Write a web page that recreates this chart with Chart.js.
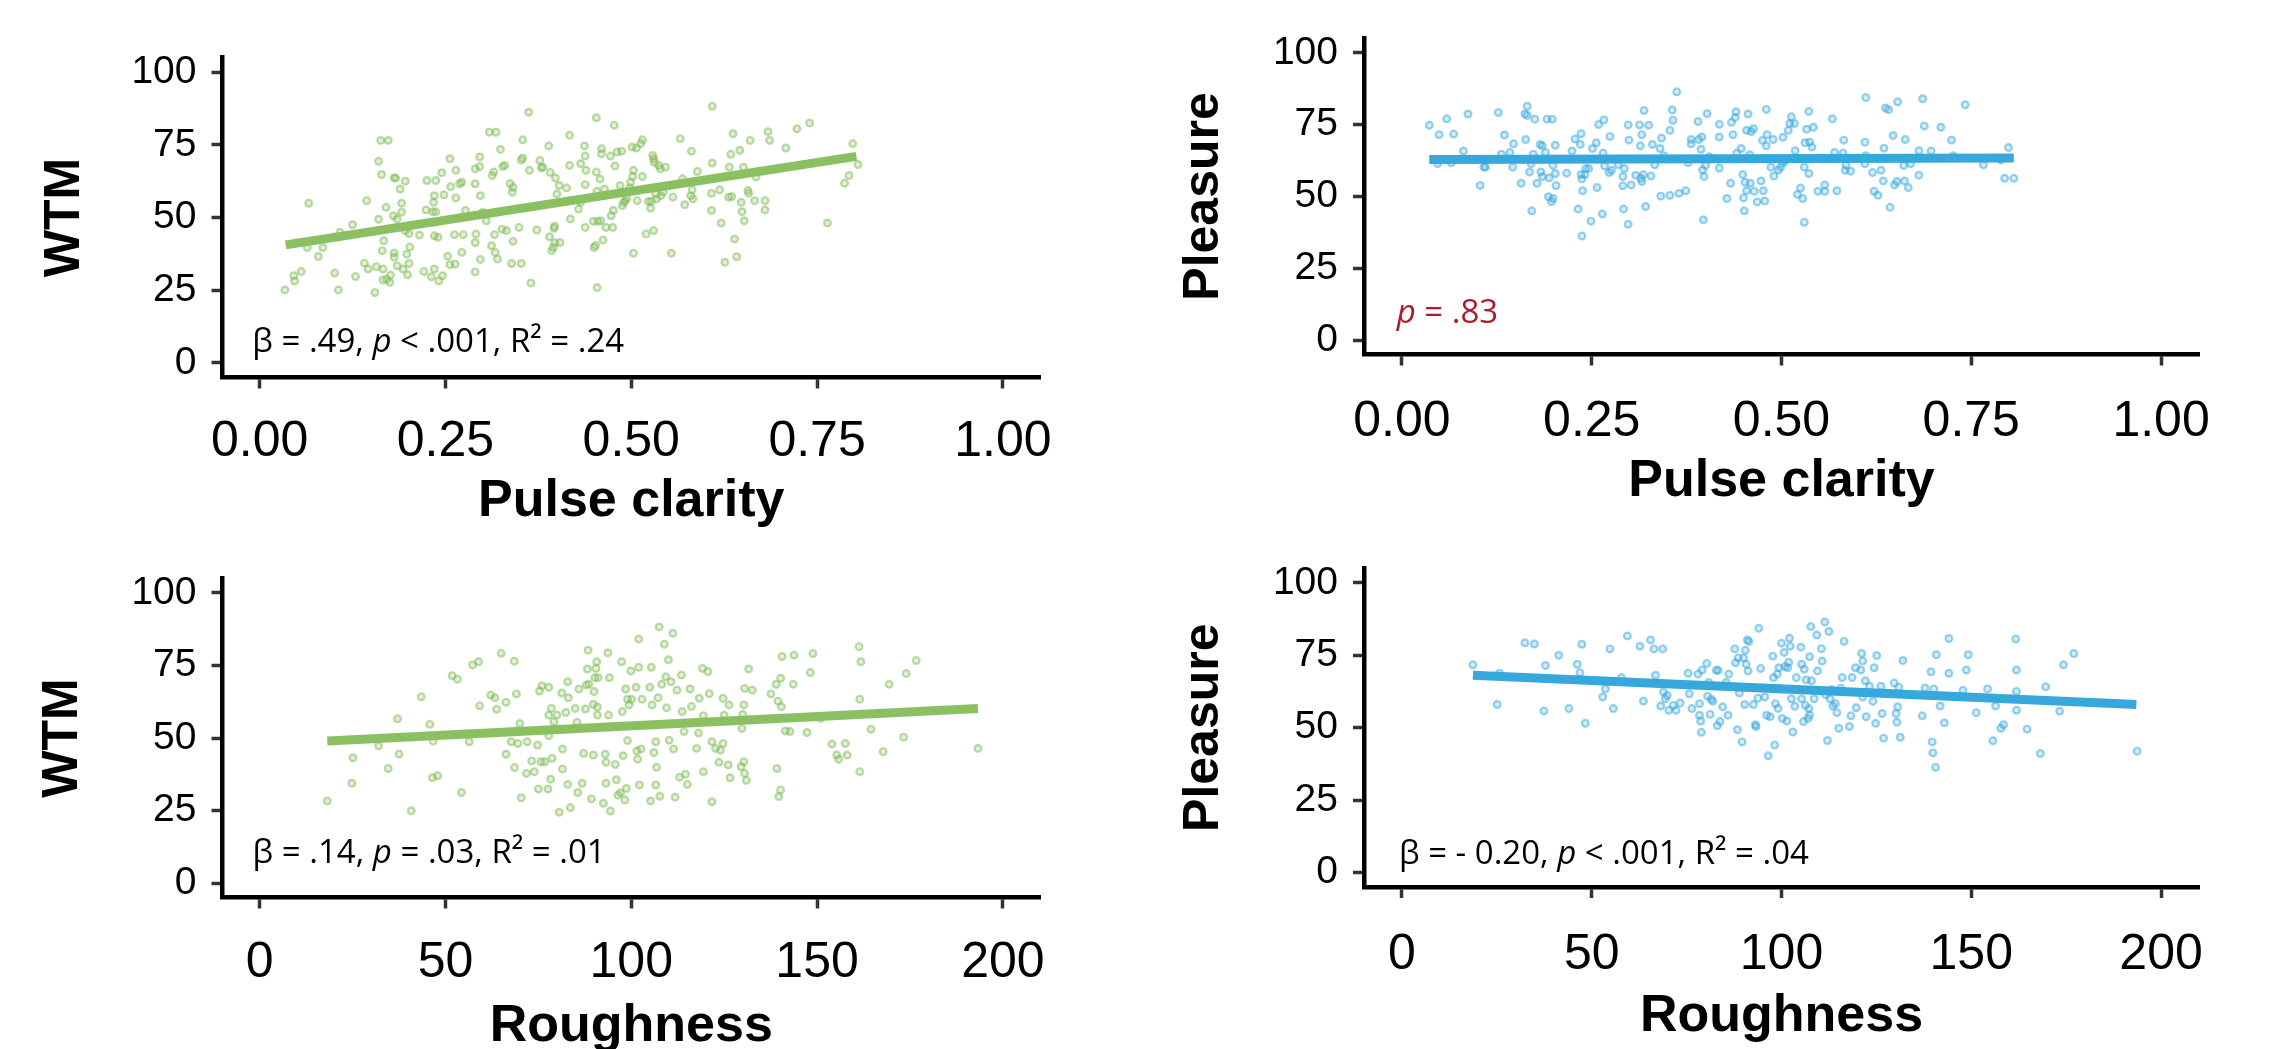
<!DOCTYPE html>
<html>
<head>
<meta charset="utf-8">
<script src="https://cdn.jsdelivr.net/npm/chart.js@4.4.1/dist/chart.umd.min.js"></script>
<style>
  html, body { margin: 0; padding: 0; background: #fff; overflow: hidden; }
  canvas { position: absolute; }
</style>
</head>
<body>
<canvas id="wtm-pulse"></canvas>
<canvas id="pleasure-pulse"></canvas>
<canvas id="wtm-rough"></canvas>
<canvas id="pleasure-rough"></canvas>
<script>
"use strict";

// tick labels
const pulseTicks = [0, 0.25, 0.5, 0.75, 1];
const roughTicks = [0, 50, 100, 150, 200];
const ratingTicks = [0, 25, 50, 75, 100];

// WTM vs pulse clarity
const wtmPulseX = [0.034,0.046,0.047,0.056,0.066,0.064,0.079,0.085,0.101,0.106,0.108,0.125,0.129,0.141,0.144,0.146,0.155,0.157,0.160,0.160,0.163,0.173,0.164,0.165,0.166,0.167,0.166,0.171,0.176,0.175,0.170,0.181,0.183,0.180,0.181,0.181,0.185,0.185,0.189,0.191,0.191,0.196,0.196,0.198,0.199,0.201,0.202,0.201,0.193,0.215,0.221,0.224,0.225,0.231,0.233,0.235,0.235,0.237,0.240,0.241,0.246,0.237,0.235,0.234,0.245,0.248,0.253,0.256,0.256,0.257,0.263,0.264,0.264,0.262,0.269,0.272,0.272,0.274,0.277,0.290,0.290,0.291,0.290,0.290,0.296,0.296,0.297,0.297,0.300,0.305,0.309,0.318,0.312,0.313,0.315,0.316,0.317,0.320,0.324,0.326,0.327,0.330,0.332,0.337,0.339,0.341,0.340,0.341,0.349,0.352,0.352,0.354,0.354,0.362,0.363,0.365,0.373,0.377,0.379,0.381,0.389,0.390,0.391,0.393,0.395,0.396,0.397,0.397,0.398,0.400,0.403,0.404,0.413,0.417,0.417,0.418,0.429,0.432,0.432,0.437,0.438,0.438,0.438,0.439,0.449,0.450,0.452,0.453,0.453,0.454,0.454,0.455,0.458,0.459,0.462,0.460,0.460,0.464,0.466,0.472,0.473,0.475,0.476,0.477,0.478,0.481,0.485,0.487,0.488,0.490,0.492,0.494,0.498,0.499,0.501,0.502,0.503,0.503,0.507,0.508,0.513,0.515,0.515,0.520,0.523,0.526,0.527,0.529,0.530,0.530,0.531,0.533,0.534,0.537,0.539,0.540,0.543,0.546,0.554,0.556,0.566,0.569,0.572,0.580,0.581,0.582,0.583,0.589,0.608,0.608,0.609,0.609,0.619,0.621,0.626,0.631,0.632,0.634,0.635,0.637,0.639,0.642,0.646,0.648,0.649,0.651,0.652,0.657,0.658,0.660,0.666,0.668,0.680,0.680,0.684,0.686,0.708,0.723,0.740,0.764,0.787,0.793,0.798,0.805];
const wtmPulseY = [25.1,30.0,28.2,31.4,54.9,39.7,36.6,39.7,30.9,25.1,44.9,47.5,29.7,34.3,55.8,32.3,24.2,33.1,49.4,69.3,76.5,76.5,64.8,38.6,32.3,42.0,28.5,28.8,30.2,27.7,53.5,63.6,63.6,50.6,37.8,36.3,33.4,49.5,59.8,51.8,54.9,62.5,45.5,37.4,30.3,34.2,39.9,44.5,32.3,44.0,31.4,52.6,62.7,29.6,52.0,43.7,32.3,52.0,43.2,28.2,30.0,62.7,57.5,55.2,65.4,57.8,36.7,70.2,33.8,60.6,34.0,66.2,56.7,44.1,61.6,62.1,38.0,44.1,52.4,61.6,66.7,44.3,41.4,31.3,70.8,67.5,57.5,35.6,51.8,48.9,79.3,79.3,40.3,64.4,65.6,44.1,38.0,35.7,73.4,46.0,67.5,67.9,45.5,61.6,34.2,60.4,58.7,41.8,46.6,34.2,69.8,70.4,76.7,86.2,66.2,27.5,45.7,69.6,67.1,67.3,74.6,43.4,65.5,38.6,39.7,46.3,47.0,41.3,63.6,58.1,61.0,41.4,60.2,78.3,67.9,49.5,52.9,68.5,55.2,74.6,71.1,61.3,46.6,66.2,48.7,39.7,40.4,84.3,65.6,25.9,59.0,48.7,63.2,48.9,42.3,73.6,71.9,59.8,46.6,71.1,50.6,46.6,52.4,81.7,67.7,72.5,61.0,72.8,54.1,55.2,55.8,56.7,60.2,62.1,74.2,64.1,66.2,37.7,73.9,55.8,75.4,76.7,64.1,44.3,55.5,53.2,55.6,71.3,70.2,45.5,69.0,58.1,56.4,67.9,66.7,57.5,58.7,67.3,37.7,57.0,77.1,63.3,54.4,57.5,72.8,59.5,56.4,65.8,52.4,58.3,68.7,88.2,59.5,48.1,34.6,57.0,67.3,71.7,57.2,78.8,42.6,36.5,73.1,55.2,52.0,67.3,48.9,59.3,58.3,76.5,55.8,63.9,55.8,52.6,79.5,76.5,73.9,80.5,82.5,48.1,61.8,64.4,75.4,68.2];
const wtmPulseFitX = [0.035, 0.803];
const wtmPulseFitY = [40.6, 71.0];

// Pleasure vs pulse clarity
const pleasurePulseX = [0.036,0.049,0.047,0.059,0.068,0.065,0.081,0.087,0.103,0.108,0.110,0.127,0.131,0.135,0.142,0.147,0.146,0.157,0.163,0.162,0.165,0.165,0.175,0.168,0.171,0.170,0.173,0.178,0.182,0.185,0.183,0.185,0.189,0.193,0.197,0.199,0.194,0.199,0.202,0.203,0.202,0.191,0.198,0.217,0.224,0.228,0.232,0.236,0.235,0.236,0.237,0.238,0.237,0.241,0.242,0.246,0.249,0.251,0.256,0.257,0.259,0.266,0.265,0.264,0.267,0.274,0.273,0.276,0.285,0.292,0.291,0.293,0.291,0.298,0.299,0.298,0.302,0.308,0.313,0.314,0.316,0.315,0.316,0.318,0.321,0.319,0.325,0.328,0.330,0.333,0.340,0.342,0.341,0.345,0.353,0.356,0.357,0.353,0.362,0.365,0.374,0.377,0.381,0.381,0.390,0.391,0.395,0.394,0.396,0.398,0.397,0.402,0.405,0.400,0.418,0.418,0.418,0.428,0.433,0.434,0.436,0.440,0.439,0.441,0.447,0.449,0.450,0.452,0.451,0.454,0.456,0.454,0.459,0.458,0.460,0.463,0.464,0.468,0.473,0.475,0.476,0.478,0.480,0.481,0.480,0.486,0.489,0.490,0.496,0.499,0.502,0.502,0.505,0.509,0.511,0.513,0.518,0.517,0.521,0.525,0.528,0.530,0.530,0.531,0.533,0.536,0.536,0.537,0.542,0.540,0.548,0.557,0.557,0.567,0.573,0.570,0.582,0.581,0.584,0.585,0.591,0.610,0.611,0.610,0.611,0.620,0.622,0.627,0.631,0.634,0.635,0.637,0.641,0.643,0.647,0.649,0.652,0.653,0.662,0.661,0.663,0.667,0.670,0.681,0.681,0.686,0.688,0.697,0.710,0.724,0.726,0.742,0.766,0.789,0.794,0.799,0.806];
const pleasurePulseY = [74.8,71.5,61.4,77.0,71.7,61.7,65.8,78.7,53.8,60.2,60.2,79.2,64.7,71.4,65.3,68.3,60.2,54.6,69.8,78.7,81.4,78.2,76.9,58.5,45.0,61.4,64.7,54.6,68.1,67.6,58.5,56.9,65.3,49.9,48.2,49.3,56.5,60.8,58.0,53.8,67.8,76.9,76.9,58.1,65.8,70.0,45.6,71.8,68.1,57.6,56.1,52.0,36.2,57.6,59.7,59.7,41.4,66.7,68.7,53.1,75.0,76.6,65.1,43.9,60.6,70.9,58.3,59.1,61.0,45.6,56.9,59.7,53.7,74.9,69.6,40.3,54.0,57.4,74.9,67.6,71.5,56.3,55.2,57.6,46.5,79.9,74.8,57.1,68.1,61.0,66.7,70.3,50.1,64.2,50.4,80.1,76.5,73.0,86.4,51.1,52.0,61.7,69.8,68.3,76.1,69.8,70.7,66.4,59.2,56.9,41.9,78.8,63.8,60.8,75.1,70.7,59.9,49.3,54.6,75.8,71.5,79.5,77.5,65.1,66.7,57.6,49.5,54.9,45.0,52.0,78.7,73.0,54.6,64.5,72.6,73.6,51.8,48.1,55.4,69.5,52.0,48.4,80.3,71.5,67.6,60.2,69.8,57.1,59.2,60.2,61.7,70.6,62.5,73.0,75.4,77.7,65.9,75.4,50.7,52.9,49.3,41.0,60.2,68.7,73.4,79.6,58.0,68.9,74.1,67.2,51.8,51.8,54.0,77.0,52.0,65.3,69.6,65.1,59.1,60.8,58.8,68.9,84.4,61.4,64.2,58.3,51.8,50.4,59.1,55.4,66.8,80.8,80.2,46.2,71.2,54.0,55.2,82.9,55.4,60.8,69.8,53.1,61.4,57.4,65.9,84.0,74.5,65.8,74.1,69.6,64.2,81.9,61.0,62.7,56.3,67.0,56.3];
const pleasurePulseFitX = [0.036, 0.806];
const pleasurePulseFitY = [62.9, 63.4];

// WTM vs roughness
const wtmRoughX = [18.2,24.8,25.1,32.0,34.6,37.1,37.5,40.8,43.5,45.8,46.5,46.7,47.9,51.8,53.2,54.3,56.4,57.3,58.9,59.2,62.2,63.3,63.8,65.0,66.3,66.3,67.7,68.5,68.6,69.1,69.5,70.0,70.4,71.8,72.0,73.2,73.9,74.8,75.0,75.3,75.7,76.0,76.7,77.6,77.8,77.8,77.8,78.3,78.5,78.7,79.2,80.0,80.6,81.3,81.5,81.5,82.4,82.9,82.9,83.1,83.6,84.9,85.4,85.6,85.9,86.8,87.2,87.7,87.9,88.2,88.4,88.6,89.3,89.8,89.8,90.0,90.2,90.5,90.7,90.9,91.1,90.9,92.5,93.0,93.2,93.2,93.7,93.9,94.4,94.1,95.7,96.0,96.4,97.1,97.4,97.6,97.8,98.3,98.5,98.7,99.0,99.0,99.4,99.9,100.1,101.3,101.5,101.7,102.0,102.0,102.2,102.6,102.9,105.0,105.2,105.4,105.6,106.1,106.6,106.6,106.8,107.2,107.5,107.7,108.2,108.9,109.3,109.5,110.0,110.2,110.7,111.2,111.4,111.8,112.3,113.0,113.5,113.7,114.2,114.6,115.1,115.8,116.2,117.6,118.1,118.3,119.2,119.4,119.4,120.6,121.0,121.7,121.7,122.7,123.6,124.0,124.7,124.7,125.0,126.1,126.3,126.6,129.6,129.8,130.0,130.3,130.3,130.5,131.0,130.5,131.6,132.6,137.6,139.0,139.2,139.5,139.7,140.2,140.2,140.4,140.6,141.5,142.7,143.6,143.8,147.3,148.2,148.9,151.0,154.0,155.3,155.8,157.6,158.1,161.5,161.5,161.8,161.3,164.5,167.8,169.4,173.3,174.0,176.7,193.3];
const wtmRoughY = [28.3,34.4,43.2,47.3,39.5,56.6,44.5,24.9,64.2,54.7,36.3,48.9,37.0,71.5,70.3,31.2,48.7,75.2,76.3,61.1,64.8,63.9,59.9,79.2,62.3,44.4,48.7,76.5,39.8,65.2,48.1,55.0,29.4,37.8,48.7,42.1,38.4,47.6,32.4,66.2,41.8,68.0,41.8,32.4,67.5,57.9,50.8,35.8,60.2,43.0,55.6,57.9,24.4,65.5,46.2,39.3,58.8,69.4,34.0,63.9,26.0,60.2,55.4,31.2,66.9,34.4,44.7,60.0,68.3,73.8,80.3,68.5,29.0,44.1,61.6,66.0,70.8,74.0,76.3,57.9,70.8,60.7,27.5,44.4,34.4,41.6,79.4,57.9,24.8,70.8,40.9,35.6,30.3,31.1,76.3,59.1,43.9,28.6,66.9,32.6,49.1,63.4,61.4,73.1,63.4,67.5,45.5,42.7,74.4,84.1,33.8,46.2,63.4,67.5,28.3,74.4,61.4,45.0,48.7,33.8,39.9,63.9,88.3,29.9,68.5,82.3,71.1,60.4,77.0,49.2,69.4,86.1,46.2,29.6,66.5,36.5,71.7,59.1,52.2,37.5,34.0,66.9,60.9,46.4,51.7,63.7,74.0,38.4,57.7,72.9,65.3,48.7,28.0,46.4,41.6,45.8,48.1,63.7,57.9,40.7,61.4,36.3,40.1,53.3,58.1,61.4,41.8,37.8,35.4,67.1,73.8,66.5,65.2,68.5,39.5,62.7,29.8,32.1,70.6,60.8,78.1,52.4,52.2,68.5,78.6,51.9,72.6,79.1,56.8,47.9,44.1,42.7,48.1,44.1,38.4,63.4,76.3,81.5,53.0,45.3,68.5,50.3,72.2,76.7,46.4];
const wtmRoughFitX = [18.2, 193.3];
const wtmRoughFitY = [49.0, 60.2];

// Pleasure vs roughness
const pleasureRoughX = [18.7,25.1,25.7,32.4,34.9,37.4,37.8,41.3,44.0,46.2,46.9,47.4,48.3,52.9,53.6,54.8,55.7,57.8,59.4,62.7,63.6,65.5,66.4,66.8,68.2,68.7,68.9,69.4,69.9,70.3,71.5,72.2,73.3,75.4,75.7,76.4,78.0,78.4,78.4,78.7,78.9,79.1,80.3,80.5,80.8,81.2,81.5,81.9,82.8,83.1,83.3,83.8,84.5,85.4,85.9,86.1,87.7,87.9,88.4,88.6,88.9,89.6,90.0,90.3,90.5,90.7,91.0,91.2,91.4,92.6,93.1,93.3,93.8,94.0,94.5,95.6,96.1,96.5,97.0,97.7,97.9,98.2,98.4,98.9,99.1,99.3,99.8,100.0,100.2,100.7,100.9,101.4,101.6,102.1,101.9,102.3,102.6,103.0,103.5,103.9,105.1,105.3,105.3,105.8,106.0,106.3,106.5,107.0,107.2,107.4,107.7,107.4,107.9,108.6,109.3,109.5,110.5,110.7,111.4,111.6,112.1,112.5,112.8,113.2,113.5,114.2,114.6,115.1,115.6,116.0,116.5,117.9,118.3,118.6,119.5,119.7,120.9,121.1,121.4,121.4,122.1,122.3,123.2,124.1,124.4,124.8,125.1,126.2,126.5,126.9,129.7,130.2,130.4,130.9,130.6,131.3,132.0,137.1,137.8,139.4,139.7,139.9,140.1,140.6,140.8,141.8,142.9,144.1,144.1,147.8,148.7,149.2,151.3,154.3,155.7,156.4,157.8,158.5,161.7,161.9,161.9,161.9,164.7,168.2,169.6,173.3,174.3,177.0,193.7];
const pleasureRoughY = [71.7,58.0,68.8,79.3,78.9,55.8,71.5,75.0,56.6,71.9,69.0,78.8,51.5,60.6,63.4,77.2,56.6,67.3,81.7,78.1,59.2,80.3,77.2,68.1,57.5,77.2,62.3,60.0,61.1,56.0,57.7,56.0,58.5,68.8,61.7,56.6,68.5,58.3,54.3,52.3,48.4,69.9,72.2,60.9,65.6,54.6,59.8,59.1,69.8,50.7,69.8,52.1,57.2,65.6,54.3,68.5,77.2,72.4,49.3,74.1,62.0,45.1,74.1,58.0,76.7,71.9,80.3,69.6,79.8,58.0,51.0,50.4,60.2,84.3,70.4,60.6,54.3,40.3,53.8,74.7,67.3,44.0,58.3,68.5,56.6,70.7,63.4,79.2,53.2,76.0,71.1,52.3,70.7,80.9,72.6,78.1,60.0,48.5,57.4,67.3,77.8,71.9,60.0,52.1,70.2,57.7,66.5,53.2,56.6,54.3,84.9,74.5,66.2,60.0,82.0,69.6,77.3,73.0,86.5,61.4,45.6,83.2,60.0,63.2,57.5,58.3,55.2,49.8,63.6,67.3,79.8,50.4,54.1,67.3,70.7,56.9,69.9,75.6,73.0,60.6,66.2,53.8,64.3,59.1,70.7,51.5,74.9,64.3,54.9,46.4,65.4,54.9,51.9,64.0,57.2,46.7,73.2,54.1,63.7,69.3,45.1,41.3,63.4,36.3,75.2,57.5,51.7,80.8,68.8,62.9,69.9,75.2,55.2,63.4,45.5,57.5,49.8,51.0,80.6,69.9,62.5,56.0,49.5,41.1,64.1,55.7,71.7,75.6,41.9];
const pleasureRoughFitX = [18.7, 193.5];
const pleasureRoughFitY = [68.1, 58.0];

// annotation pieces: plain, italic, plain
const wtmPulseNote = ["β = .49, ", "p", " < .001, R² = .24"];
const pleasurePulseNote = ["", "p", " = .83"];
const wtmRoughNote = ["β = .14, ", "p", " = .03, R² = .01"];
const pleasureRoughNote = ["β = - 0.20, ", "p", " < .001, R² = .04"];

const GREEN = "#8bc062";
const BLUE = "#36a8dc";
const RED = "#b2182b";
const SANS = "'Liberation Sans', Arial, sans-serif";

function pairs(xs, ys) {
  let out = [];
  for (let i = 0; i < Math.min(xs.length, ys.length); i++) {
    out.push({ x: xs[i], y: ys[i] });
  }
  return out;
}

function notePlugin(parts, nx, ny, color) {
  return {
    id: "note",
    afterDatasetsDraw: function (chart) {
      const ctx = chart.ctx;
      let x = chart.scales.x.getPixelForValue(nx);
      const y = chart.scales.y.getPixelForValue(ny);
      ctx.save();
      ctx.fillStyle = color;
      ctx.textBaseline = "alphabetic";
      ctx.textAlign = "left";
      parts.forEach(function (part, i) {
        ctx.font = (i === 1 ? "italic " : "") + "33px 'Open Sans'";
        ctx.fillText(part, x, y);
        x += ctx.measureText(part).width;
      });
      ctx.restore();
    },
  };
}

function axisStyle(extra) {
  return Object.assign(
    {
      type: "linear",
      border: { display: true, color: "#000", width: 4.5 },
      grid: {
        drawOnChartArea: false,
        drawTicks: true,
        tickLength: 11,
        tickWidth: 3.5,
        tickColor: "#333",
      },
    },
    extra
  );
}

function makePanel(id, p) {
  const canvas = document.getElementById(id);
  canvas.width = p.w;
  canvas.height = p.h;
  canvas.style.left = p.left + "px";
  canvas.style.top = p.top + "px";
  canvas.style.width = p.w + "px";
  canvas.style.height = p.h + "px";

  const colour = p.colour;
  return new Chart(canvas.getContext("2d"), {
    type: "scatter",
    data: {
      datasets: [
        {
          label: "fit",
          data: pairs(p.fitX, p.fitY),
          showLine: true,
          borderColor: colour,
          borderWidth: 9,
          pointRadius: 0,
          order: 0,
        },
        {
          label: "songs",
          data: pairs(p.xs, p.ys),
          pointRadius: 3.4,
          borderWidth: 2.2,
          borderColor: p.ring,
          backgroundColor: p.fill,
          order: 1,
        },
      ],
    },
    options: {
      responsive: false,
      animation: false,
      devicePixelRatio: 1,
      events: [],
      layout: { padding: { left: 0, top: p.padTop, right: p.padRight, bottom: 0 } },
      plugins: { legend: { display: false }, tooltip: { enabled: false } },
      scales: {
        x: axisStyle({
          min: p.xMin,
          max: p.xMax,
          afterBuildTicks: function (s) {
            s.ticks = p.xTicks.map(function (v) { return { value: v }; });
          },
          afterFit: function (s) { s.height = p.xHeight; },
          ticks: {
            color: "#000",
            font: { family: SANS, size: 50 },
            padding: p.xTickPad,
            maxRotation: 0,
            autoSkip: false,
            callback: p.xFormat,
          },
          title: {
            display: true,
            text: p.xTitle,
            color: "#000",
            font: { family: SANS, size: 52, weight: "bold", lineHeight: 1 },
            padding: { top: 0, bottom: p.xTitlePad },
          },
        }),
        y: axisStyle({
          min: -5,
          max: 105,
          afterBuildTicks: function (s) {
            s.ticks = ratingTicks.map(function (v) { return { value: v }; });
          },
          afterFit: function (s) { s.width = p.yWidth; },
          ticks: {
            color: "#000",
            font: { family: SANS, size: 39 },
            padding: 15,
            callback: function (v) { return String(v); },
          },
          title: {
            display: true,
            text: p.yTitle,
            color: "#000",
            font: { family: SANS, size: 50, weight: "bold", lineHeight: 1 },
            padding: { top: p.yTitlePad, bottom: 0 },
          },
        }),
      },
    },
    plugins: [notePlugin(p.note, p.noteX, p.noteY, p.noteColour)],
  });
}

const pulseFormat = function (v) { return Number(v).toFixed(2); };
const roughFormat = function (v) { return String(v); };

makePanel("wtm-pulse", {
  left: 0, top: 0, w: 1137, h: 530,
  padTop: 57.5, padRight: 97, yWidth: 222.5, xHeight: 152.5,
  xTickPad: 23.5, xTitlePad: 2, yTitlePad: 40,
  xMin: -0.05, xMax: 1.05, xTicks: pulseTicks, xFormat: pulseFormat,
  xTitle: "Pulse clarity", yTitle: "WTM",
  xs: wtmPulseX, ys: wtmPulseY, fitX: wtmPulseFitX, fitY: wtmPulseFitY,
  colour: GREEN, ring: "rgba(125,186,84,0.5)", fill: "rgba(125,186,84,0.22)",
  note: wtmPulseNote, noteX: -0.01, noteY: 3.6, noteColour: "#000",
});

makePanel("pleasure-pulse", {
  left: 1150, top: 0, w: 1124, h: 530,
  padTop: 29, padRight: 75, yWidth: 214, xHeight: 175.5,
  xTickPad: 26.5, xTitlePad: 22, yTitlePad: 29,
  xMin: -0.05, xMax: 1.05, xTicks: pulseTicks, xFormat: pulseFormat,
  xTitle: "Pulse clarity", yTitle: "Pleasure",
  xs: pleasurePulseX, ys: pleasurePulseY, fitX: pleasurePulseFitX, fitY: pleasurePulseFitY,
  colour: BLUE, ring: "rgba(54,168,220,0.5)", fill: "rgba(54,168,220,0.22)",
  note: pleasurePulseNote, noteX: -0.007, noteY: 6.1, noteColour: RED,
});

makePanel("wtm-rough", {
  left: 0, top: 530, w: 1137, h: 560,
  padTop: 48.5, padRight: 97, yWidth: 222.5, xHeight: 192.5,
  xTickPad: 24.5, xTitlePad: 37, yTitlePad: 38,
  xMin: -10, xMax: 210, xTicks: roughTicks, xFormat: roughFormat,
  xTitle: "Roughness", yTitle: "WTM",
  xs: wtmRoughX, ys: wtmRoughY, fitX: wtmRoughFitX, fitY: wtmRoughFitY,
  colour: GREEN, ring: "rgba(125,186,84,0.5)", fill: "rgba(125,186,84,0.22)",
  note: wtmRoughNote, noteX: -1.9, noteY: 6.9, noteColour: "#000",
});

makePanel("pleasure-rough", {
  left: 1150, top: 530, w: 1124, h: 560,
  padTop: 32, padRight: 75, yWidth: 214, xHeight: 203,
  xTickPad: 27, xTitlePad: 47, yTitlePad: 29,
  xMin: -10, xMax: 210, xTicks: roughTicks, xFormat: roughFormat,
  xTitle: "Roughness", yTitle: "Pleasure",
  xs: pleasureRoughX, ys: pleasureRoughY, fitX: pleasureRoughFitX, fitY: pleasureRoughFitY,
  colour: BLUE, ring: "rgba(54,168,220,0.5)", fill: "rgba(54,168,220,0.22)",
  note: pleasureRoughNote, noteX: -0.8, noteY: 3, noteColour: "#000",
});
</script>
</body>
</html>
